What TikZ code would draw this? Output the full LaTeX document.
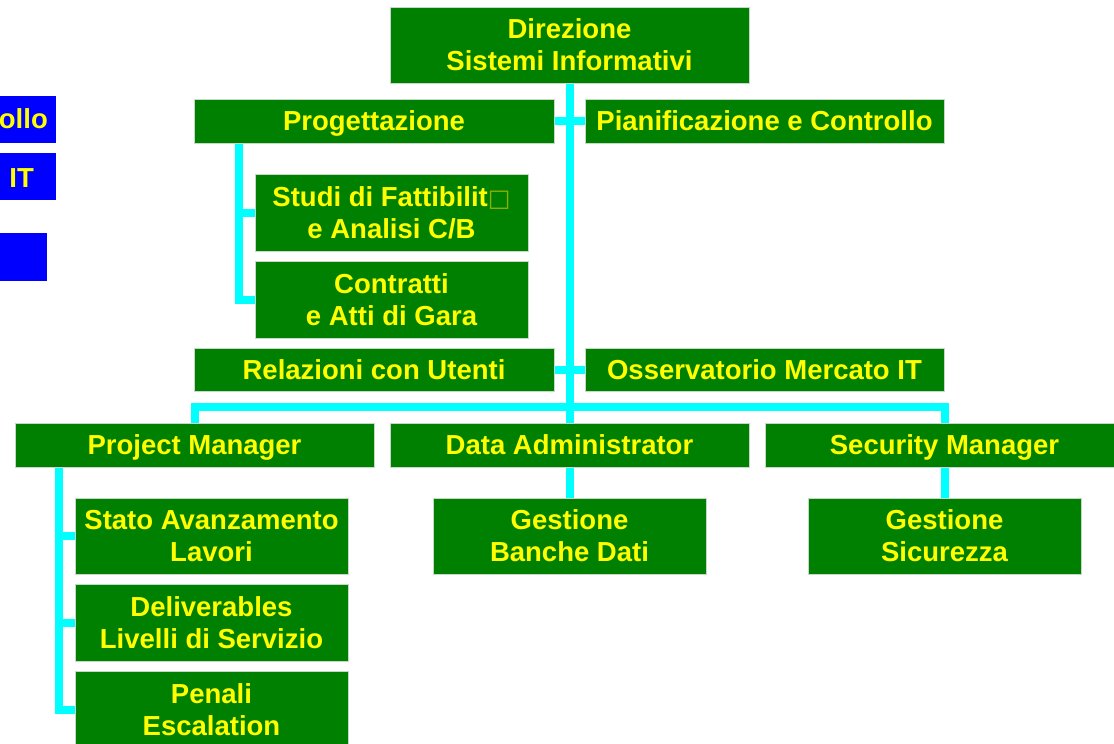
\documentclass[tikz,border=0pt]{standalone}
\usepackage{fontspec}
\setmainfont{Liberation Sans}
\newfontfamily\symfont{DejaVu Sans}
\usetikzlibrary{backgrounds}
\definecolor{boxgreen}{HTML}{008000}
\definecolor{txtyellow}{HTML}{FFFF00}
\definecolor{conncyan}{HTML}{00FFFF}
\definecolor{boxblue}{HTML}{0000FF}
\definecolor{sqcol}{HTML}{90B000}
\definecolor{edgegray}{HTML}{C8D8C8}
\begin{document}
\begin{tikzpicture}[x=1pt,y=-1pt,
  box/.style={fill=boxgreen, draw=edgegray, line width=0.8pt, inner sep=0pt,
    text=txtyellow, font=\fontsize{27.5}{32}\selectfont\bfseries, align=center},
  oneline/.style={text height=19.7pt, text depth=0pt},
  bluebox/.style={fill=boxblue, draw=none, inner sep=0pt},
  bltext/.style={text=txtyellow, font=\fontsize{27.5}{32}\selectfont\bfseries, inner sep=0pt},
  conn/.style={draw=conncyan, line width=8pt, line join=miter}]
\useasboundingbox (0,0) rectangle (1114,744);
\clip (0,0) rectangle (1114,744);

% boxes
\node[box, minimum width=359, minimum height=76] (dir) at (569.5,45) {Direzione\\Sistemi Informativi};
\node[box, oneline, minimum width=360, minimum height=44] (prog) at (374,121) {Progettazione};
\node[box, oneline, minimum width=359, minimum height=44] (pian) at (764.5,121) {Pianificazione e Controllo};
\node[box, minimum width=273, minimum height=77] (studi) at (391.5,212.5) {Studi di Fattibilit\textcolor{sqcol}{\symfont\fontsize{24}{24}\selectfont □}\\e Analisi C/B};
\node[box, minimum width=273, minimum height=77] (contr) at (391.5,299.5) {Contratti\\e Atti di Gara};
\node[box, oneline, minimum width=360, minimum height=43] (rel) at (374,369.5) {Relazioni con Utenti};
\node[box, oneline, minimum width=359, minimum height=43] (oss) at (764.5,369.5) {Osservatorio Mercato IT};
\node[box, oneline, minimum width=359, minimum height=44] (pm) at (194.5,445) {Project Manager};
\node[box, oneline, minimum width=359, minimum height=44] (da) at (569.5,445) {Data Administrator};
\node[box, oneline, minimum width=359, minimum height=44] (sm) at (944.5,445) {Security Manager};
\node[box, minimum width=273, minimum height=76] (sal) at (211.5,536) {Stato Avanzamento\\Lavori};
\node[box, minimum width=273, minimum height=77] (del) at (211.5,622.5) {Deliverables\\Livelli di Servizio};
\node[box, minimum width=273, minimum height=77] (pen) at (211.5,709.5) {Penali\\Escalation};
\node[box, minimum width=273, minimum height=76] (gbd) at (569.5,536) {Gestione\\Banche Dati};
\node[box, minimum width=273, minimum height=76] (gs) at (944.5,536) {Gestione\\Sicurezza};

% blue boxes at left edge
\node[bluebox, minimum width=112, minimum height=47] (b1) at (0,119.5) {};
\node[bltext, anchor=base east] (t1) at (48,128) {ollo};
\node[bluebox, minimum width=112, minimum height=47] (b2) at (0,176.5) {};
\node[bltext, anchor=base east] (t2) at (34,187) {IT};
\node[bluebox, minimum width=94, minimum height=48] (b3) at (0,257) {};

% connectors
\coordinate (bus) at (570,407);
\coordinate (pbx) at (239,143);
\coordinate (pmx) at (59,467);
\begin{scope}[on background layer]
\fill[white] (0,0) rectangle (1114,744);
\draw[conn] (dir.south -| bus) -- (bus);
\draw[conn] (prog.east) -- (pian.west);
\draw[conn] (rel.east) -- (oss.west);
\draw[conn] (pm.north) -- (pm.north |- bus) -- (sm.north |- bus) -- (sm.north);
\draw[conn] (da.north -| bus) -- (bus);
\draw[conn] (da.south) -- (gbd.north);
\draw[conn] (sm.south) -- (gs.north);
\draw[conn] (pbx |- prog.south) |- (contr.west);
\draw[conn] ([xshift=-4pt]pbx |- studi.west) -- (studi.west);
\draw[conn] (pmx |- pm.south) |- (pen.west);
\draw[conn] ([xshift=-4pt]pmx |- sal.west) -- (sal.west);
\draw[conn] ([xshift=-4pt]pmx |- del.west) -- (del.west);
\end{scope}
\end{tikzpicture}
\end{document}
